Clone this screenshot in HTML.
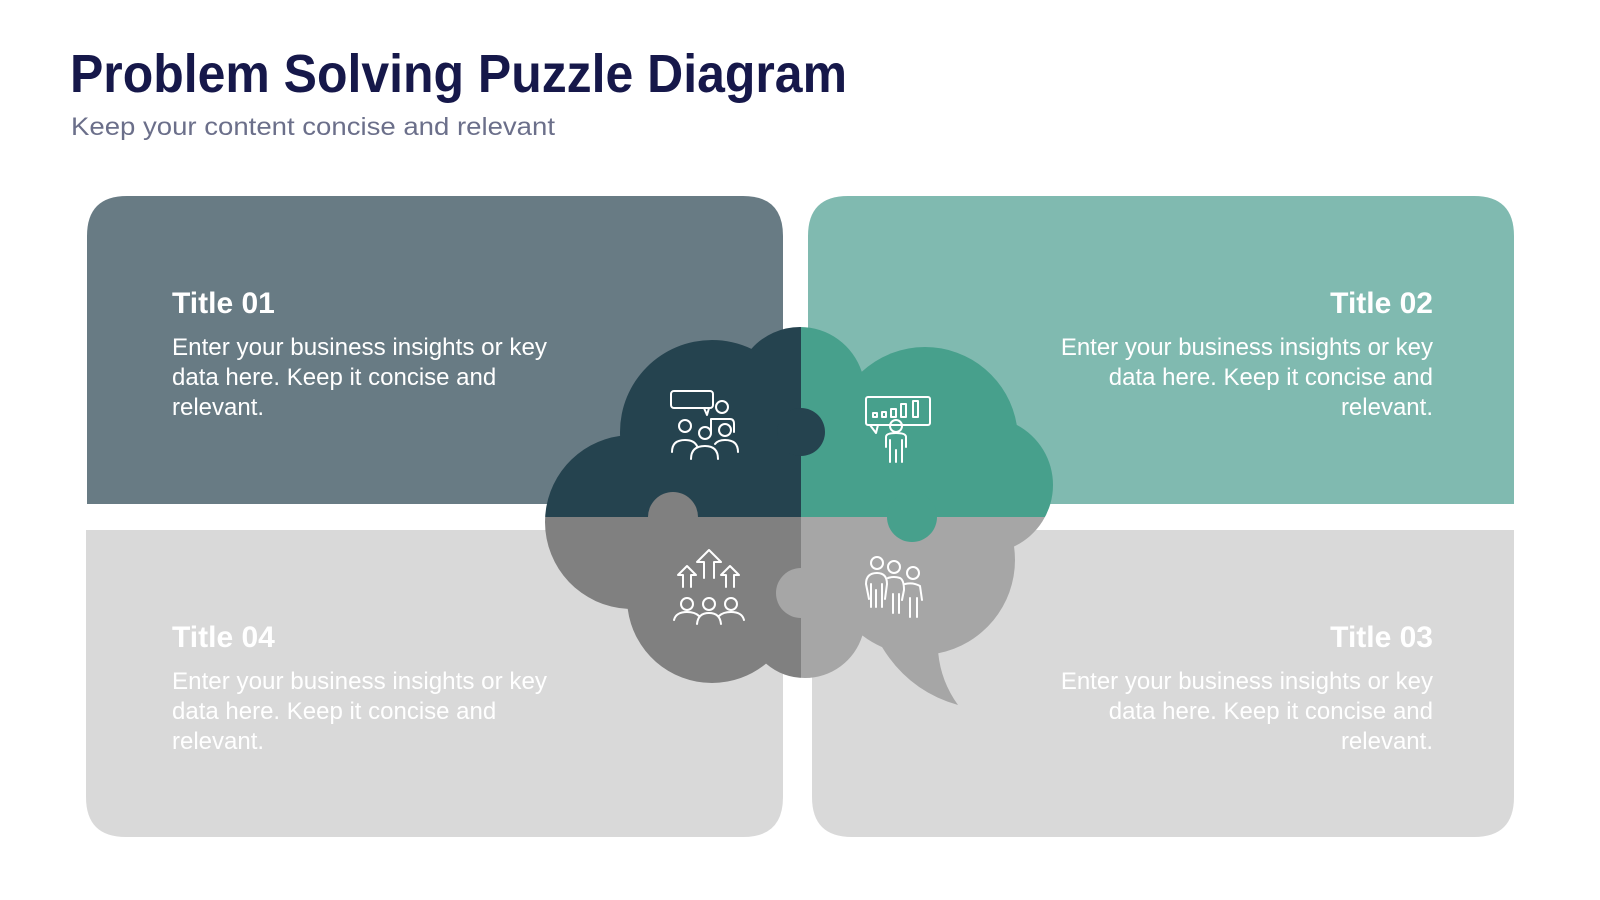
<!DOCTYPE html>
<html><head><meta charset="utf-8"><style>
html,body{margin:0;padding:0;background:#fff;}
body{width:1600px;height:900px;position:relative;overflow:hidden;font-family:"Liberation Sans",sans-serif;}
</style></head><body>
<svg width="1600" height="900" viewBox="0 0 1600 900" xmlns="http://www.w3.org/2000/svg" style="position:absolute;left:0;top:0">
<defs>
<clipPath id="cloud">
  <circle cx="712" cy="432" r="92"/>
  <circle cx="800" cy="392" r="65"/>
  <circle cx="925" cy="440" r="93"/>
  <circle cx="985" cy="485" r="68"/>
  <circle cx="632" cy="522" r="87"/>
  <circle cx="712" cy="598" r="85"/>
  <circle cx="805" cy="618" r="60"/>
  <circle cx="920" cy="560" r="95"/>
  <rect x="650" y="420" width="320" height="190"/>
  <path d="M878 640 Q905 690 958 705 Q940 680 938 650 Z"/>
</clipPath>
</defs>
<text x="70" y="92" font-family="Liberation Sans" font-weight="bold" font-size="54" fill="#16184a" textLength="777" lengthAdjust="spacingAndGlyphs">Problem Solving Puzzle Diagram</text>
<text x="71" y="135" font-family="Liberation Sans" font-size="25" fill="#6b6f8a" textLength="484" lengthAdjust="spacingAndGlyphs">Keep your content concise and relevant</text>

<path d="M87 236 Q87 196 127 196 L743 196 Q783 196 783 236 L783 504 L87 504 Z" fill="#687b84"/>
<path d="M808 236 Q808 196 848 196 L1474 196 Q1514 196 1514 236 L1514 504 L808 504 Z" fill="#80bab0"/>
<path d="M86 530 L783 530 L783 797 Q783 837 743 837 L126 837 Q86 837 86 797 Z" fill="#d9d9d9"/>
<path d="M812 530 L1514 530 L1514 797 Q1514 837 1474 837 L852 837 Q812 837 812 797 Z" fill="#d9d9d9"/>

<g font-family="Liberation Sans" fill="#fff">
<text x="172" y="313" font-weight="bold" font-size="30">Title 01</text>
<text font-size="24"><tspan x="172" y="355" textLength="375" lengthAdjust="spacingAndGlyphs">Enter your business insights or key</tspan><tspan x="172" y="385">data here. Keep it concise and</tspan><tspan x="172" y="415">relevant.</tspan></text>
<text x="1433" y="313" font-weight="bold" font-size="30" text-anchor="end">Title 02</text>
<text font-size="24" text-anchor="end"><tspan x="1433" y="355">Enter your business insights or key</tspan><tspan x="1433" y="385">data here. Keep it concise and</tspan><tspan x="1433" y="415">relevant.</tspan></text>
<text x="172" y="647" font-weight="bold" font-size="30">Title 04</text>
<text font-size="24"><tspan x="172" y="689" textLength="375" lengthAdjust="spacingAndGlyphs">Enter your business insights or key</tspan><tspan x="172" y="719">data here. Keep it concise and</tspan><tspan x="172" y="749">relevant.</tspan></text>
<text x="1433" y="647" font-weight="bold" font-size="30" text-anchor="end">Title 03</text>
<text font-size="24" text-anchor="end"><tspan x="1433" y="689">Enter your business insights or key</tspan><tspan x="1433" y="719">data here. Keep it concise and</tspan><tspan x="1433" y="749">relevant.</tspan></text>
</g>

<g clip-path="url(#cloud)">
  <rect x="500" y="300" width="301" height="217" fill="#25434f"/>
  <rect x="801" y="300" width="300" height="217" fill="#47a08c"/>
  <rect x="500" y="517" width="301" height="250" fill="#808080"/>
  <rect x="801" y="517" width="300" height="250" fill="#a6a6a6"/>
</g>
<circle cx="801" cy="432" r="24" fill="#25434f"/>
<circle cx="673" cy="517" r="25" fill="#808080"/>
<rect x="648" y="517" width="50" height="2" fill="#808080"/>
<circle cx="912" cy="517" r="25" fill="#47a08c"/>
<circle cx="801" cy="593" r="25" fill="#a6a6a6"/>

<g fill="none" stroke="#fff" stroke-width="2" stroke-linecap="round" stroke-linejoin="round">
  <rect x="671" y="391" width="42" height="17" rx="3"/>
  <path d="M704 408 L707 415 L709 408"/>
  <circle cx="722" cy="407" r="6"/>
  <path d="M711 432 L711 419 L730 419 Q734 419 734 424 L734 432"/>
  <circle cx="685" cy="426" r="6"/><circle cx="705" cy="433" r="6"/><circle cx="725" cy="430" r="6"/>
  <path d="M672 452 Q672 440 685 440 Q694 440 697 446"/>
  <path d="M691 459 Q691 446 705 446 Q718 446 718 459"/>
  <path d="M715 444 Q718 440 725 440 Q738 440 738 452"/>
  <rect x="866" y="397" width="64" height="28" rx="2"/>
  <path d="M870 425 L876 433 L878 425"/>
  <rect x="873" y="413" width="4" height="4"/><rect x="882" y="412" width="4" height="5"/><rect x="891" y="409" width="5" height="8"/><rect x="901" y="404" width="5" height="13"/><rect x="913" y="401" width="5" height="16"/>
  <circle cx="896" cy="426" r="6"/>
  <path d="M886 447 L886 437 Q886 433 896 433 Q906 433 906 437 L906 447 M890 440 L890 462 M902 440 L902 462 M896 450 L896 462"/>
  <path d="M704 578 L704 562 L697 562 L709 550 L721 562 L714 562 L714 578"/>
  <path d="M683 587 L683 575 L678 575 L687 566 L696 575 L691 575 L691 587"/>
  <path d="M726 587 L726 575 L721 575 L730 566 L739 575 L734 575 L734 587"/>
  <circle cx="687" cy="604" r="6"/><circle cx="709" cy="604" r="6"/><circle cx="731" cy="604" r="6"/>
  <path d="M674 620 Q676 612 687 612 Q695 612 699 616 M697 624 Q698 613 709 613 Q720 613 721 624 M719 616 Q723 612 731 612 Q742 612 744 620"/>
  <circle cx="877" cy="563" r="6"/><circle cx="894" cy="567" r="6"/><circle cx="913" cy="573" r="6"/>
  <path d="M869 599 L866 584 Q866 573 877 573 Q887 573 887 584 L885 599 M871 584 L871 607 M876 590 L876 607 M882 584 L882 607"/>
  <path d="M888 578 Q894 576 900 578 Q904 580 904 590 L902 600 M893 594 L893 613 M899 594 L899 613"/>
  <path d="M905 584 Q913 582 920 586 L922 600 M910 598 L910 617 M917 598 L917 617"/>
</g>
</svg>
</body></html>
